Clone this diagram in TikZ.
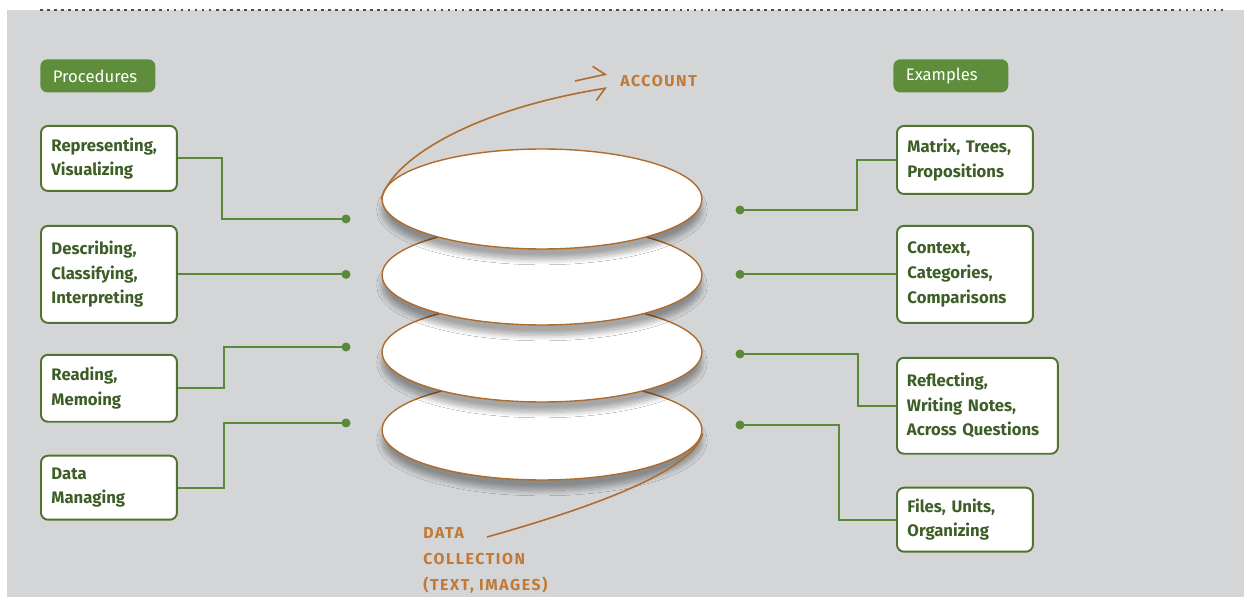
\documentclass[tikz,border=0pt]{standalone}
\usepackage{fontspec}
\newfontfamily\firasans{Fira Sans}
\usetikzlibrary{arrows.meta,positioning,shapes.geometric,shadows.blur}
\definecolor{bggray}{HTML}{D3D5D7}
\definecolor{labgreen}{HTML}{5E8D3C}
\definecolor{boxgreen}{HTML}{4E7432}
\definecolor{textgreen}{HTML}{3D5E27}
\definecolor{linkgreen}{HTML}{5B893A}
\definecolor{brownline}{HTML}{B06C2C}
\definecolor{browntext}{HTML}{C07A36}

\begin{document}
\begin{tikzpicture}[x=0.02cm, y=-0.02cm,
  box/.style={draw=boxgreen, line width=1.1pt, rounded corners=4pt, fill=white, align=left, text=textgreen, font=\firasans\bfseries\fontsize{9.5}{14}\selectfont, inner xsep=0.21cm, inner ysep=0pt, text width=2.3cm, anchor=north west},
  hdr/.style={fill=labgreen, rounded corners=4pt, text=white, font=\firasans\fontsize{9.5}{11}\selectfont, minimum height=0.66cm, text width=1.8cm, inner xsep=0.25cm, inner ysep=0pt, align=left, anchor=north west},
  disc/.style={ellipse, draw=brownline, line width=0.8pt, fill=white, minimum width=6.4cm, minimum height=2cm, inner sep=0pt, blur shadow={shadow xshift=0pt, shadow yshift=-6pt, shadow blur radius=3pt, shadow blur steps=10, shadow opacity=35}},
  link/.style={draw=linkgreen, line width=1.1pt},
  sweep/.style={draw=brownline, line width=0.9pt},
  otext/.style={text=browntext, font=\firasans\bfseries\fontsize{9}{14.8}\selectfont\addfontfeature{LetterSpace=10}, inner sep=0pt, align=left}]
\useasboundingbox (0,0) rectangle (1244,597);
\fill[bggray] (7,10) rectangle (1244,597);
\draw[gray!60!black, line width=1.6pt, dash pattern=on 1.6pt off 2.4pt] (40,10) -- (1225,10);

% Layers of the stack
\node[disc] (lay4) at (542,430) {};
\node[disc] (lay3) at (542,352) {};
\node[disc] (lay2) at (542,275) {};
\node[disc] (lay1) at (542,199) {};

% Account
\node[otext, anchor=west] (acc) at (620,81) {ACCOUNT};
\coordinate (acctip) at (607,88);
\coordinate (acctop) at (607,74);
\coordinate (accback) at (575,81);
\draw[sweep, -{Straight Barb[right, length=6pt, width=12pt]}] (lay1.west) .. controls (392,160) and (470,110) .. (acctip);
\draw[sweep, -{Straight Barb[left, length=6pt, width=12pt]}] (accback) -- (acctop);

% Data collection
\node[otext, anchor=north west] (coll) at (423,527) {DATA\\COLLECTION\\(TEXT, IMAGES)};
\coordinate (collend) at (487,537);
\draw[sweep] ([yshift=-2pt]lay4.east) .. controls (692,472) and (590,508) .. (collend);

% Procedures
\node[hdr] (proc) at (40,59) {Procedures};
\node[box, minimum height=1.3cm] (rep) at (40,125) {Representing,\\Visualizing};
\node[box, minimum height=1.94cm, below=0.66cm of rep] (des) {Describing,\\Classifying,\\Interpreting};
\node[box, minimum height=1.34cm, below=0.6cm of des] (rea) {Reading,\\Memoing};
\node[box, minimum height=1.28cm, below=0.64cm of rea] (dat) {Data\\Managing};
\path (rep.east -| 346,0) ++(0,60.5) coordinate (dl1);
\path (des.east -| 346,0) coordinate (dl2);
\coordinate (dl3) at (346,347);
\coordinate (dl4) at (346,423);
\draw[link] (rep.east) -- ++(44,0) |- (dl1);
\draw[link] (des.east) -- (dl2);
\draw[link] (rea.east) -- ++(46,0) |- (dl3);
\draw[link] (dat.east) -- ++(46,0) |- (dl4);
\foreach \d in {dl1,dl2,dl3,dl4} \fill[linkgreen] (\d) circle[radius=4.5];

% Examples
\node[hdr] (expl) at (893,59) {Examples};
\node[box, minimum height=1.36cm] (mat) at (896,125) {Matrix, Trees,\\Propositions};
\node[box, minimum height=1.94cm, below=0.6cm of mat] (con) {Context,\\Categories,\\Comparisons};
\node[box, minimum height=1.92cm, text width=2.82cm, inner xsep=0.2cm, below=0.66cm of con.south west, anchor=north west] (ref) {Reflecting,\\Writing Notes,\\Across Questions};
\node[box, minimum height=1.28cm, below=0.64cm of ref.south west, anchor=north west] (fil) {Files, Units,\\Organizing};
\coordinate (dr1) at (740,210);
\path (con.west -| 740,0) coordinate (dr2);
\coordinate (dr3) at (740,354);
\coordinate (dr4) at (740,425);
\draw[link] (mat.west) -- ++(-39,0) |- (dr1);
\draw[link] (con.west) -- (dr2);
\draw[link] (ref.west) -- ++(-38,0) |- (dr3);
\draw[link] (fil.west) -- ++(-57,0) |- (dr4);
\foreach \d in {dr1,dr2,dr3,dr4} \fill[linkgreen] (\d) circle[radius=4.5];
\end{tikzpicture}
\end{document}
